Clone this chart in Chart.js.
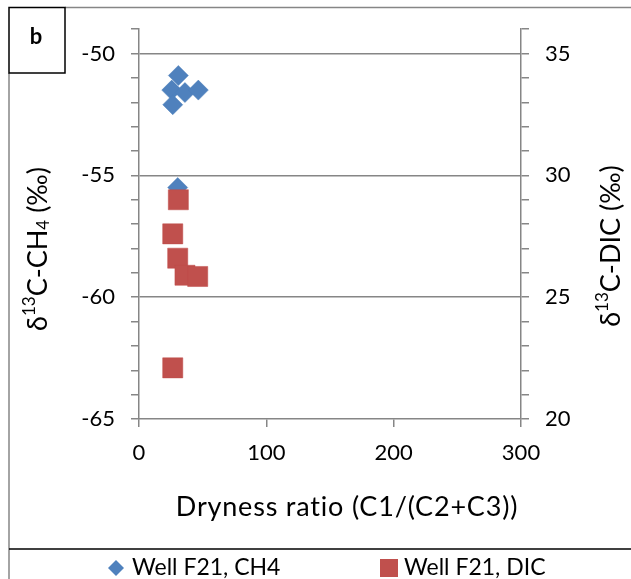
<!DOCTYPE html>
<html>
<head>
<meta charset="utf-8">
<script src="https://cdn.jsdelivr.net/npm/chart.js@4.4.1/dist/chart.umd.min.js"></script>
<style>
  html, body { margin: 0; padding: 0; background: #fff; }
  #wrap { width: 631px; height: 579px; position: relative; }
</style>
</head>
<body>
<div id="wrap"><canvas id="chart"></canvas></div>
<script>
// dryness ratio C1/(C2+C3) and d13C values
const dryCH4 = [30.9, 25.7, 36.1, 46.6, 26.5, 30.4];
const d13CH4 = [-50.9, -51.5, -51.6, -51.5, -52.1, -55.5];
const dryDIC = [30.9, 26.5, 30.4, 36.1, 46.1, 26.5];
const d13DIC = [29.0, 27.6, 26.6, 25.9, 25.85, 22.1];

const xTicks = [0, 100, 200, 300];
const leftLabels = [-65, -60, -55, -50];
const rightLabels = [20, 25, 30, 35];

const FONT = 'Lato, "Open Sans", sans-serif';
const AXIS = '#868686';
const BLUE = '#4F81BD';
const RED = '#C0504D';

function pts(xs, ys) {
  return xs.map((x, i) => ({x: x, y: ys[i]}));
}

// draw a line of text made of pieces with their own size / baseline shift
function richText(ctx, parts, cx, cy, rot, spacing) {
  ctx.save();
  ctx.translate(cx, cy);
  ctx.rotate(rot);
  ctx.textBaseline = 'middle';
  ctx.textAlign = 'left';
  if (spacing) ctx.letterSpacing = spacing + 'px';
  let w = 0;
  parts.forEach(p => {
    ctx.font = p.size + 'px ' + FONT;
    p.w = ctx.measureText(p.t).width;
    w += p.w;
  });
  let x = -w / 2;
  parts.forEach(p => {
    ctx.font = p.size + 'px ' + FONT;
    ctx.fillStyle = '#000';
    ctx.fillText(p.t, x, p.dy || 0);
    x += p.w;
  });
  ctx.restore();
}

const decor = {
  id: 'decor',
  afterDraw(chart) {
    const ctx = chart.ctx;
    ctx.save();
    // outer frame
    ctx.strokeStyle = AXIS;
    ctx.lineWidth = 1.5;
    ctx.beginPath();
    ctx.moveTo(65, 7.5); ctx.lineTo(631, 7.5);
    ctx.moveTo(9, 73); ctx.lineTo(9, 579);
    ctx.stroke();
    ctx.strokeStyle = '#000';
    ctx.beginPath();
    ctx.moveTo(9, 549); ctx.lineTo(631, 549);
    ctx.stroke();
    ctx.strokeRect(9, 7.5, 56, 65.5);
    // panel letter
    ctx.fillStyle = '#000';
    ctx.font = 'bold 22px ' + FONT;
    ctx.textAlign = 'center';
    ctx.textBaseline = 'middle';
    ctx.fillText('b', 36, 37);
    ctx.restore();

    // axis titles
    richText(ctx, [{t: 'Dryness ratio (C1/(C2+C3))', size: 27}], 347, 507, 0, 0.8);
    richText(ctx, [
      {t: 'δ', size: 27}, {t: '13', size: 17, dy: -8},
      {t: 'C-CH', size: 27}, {t: '4', size: 17, dy: 6},
      {t: ' (‰)', size: 27}
    ], 38, 249, -Math.PI / 2);
    richText(ctx, [
      {t: 'δ', size: 27}, {t: '13', size: 17, dy: -8},
      {t: 'C-DIC (‰)', size: 27}
    ], 611, 246, -Math.PI / 2);

    // legend
    ctx.save();
    const ly = 568;
    ctx.fillStyle = BLUE;
    ctx.beginPath();
    ctx.moveTo(116, ly - 8); ctx.lineTo(124, ly); ctx.lineTo(116, ly + 8); ctx.lineTo(108, ly);
    ctx.closePath();
    ctx.fill();
    ctx.fillStyle = RED;
    ctx.fillRect(380, ly - 9, 18, 18);
    ctx.fillStyle = '#000';
    ctx.font = '23px ' + FONT;
    ctx.textAlign = 'left';
    ctx.textBaseline = 'middle';
    ctx.fillText(chart.data.datasets[0].label, 132, ly);
    ctx.fillText(chart.data.datasets[1].label, 404, ly);
    ctx.restore();
  }
};

new Chart(document.getElementById('chart'), {
  type: 'scatter',
  data: {
    datasets: [{
      label: 'Well F21, CH4',
      data: pts(dryCH4, d13CH4),
      yAxisID: 'y',
      pointStyle: 'rectRot',
      pointRadius: 10,
      backgroundColor: BLUE,
      borderColor: '#4A7EBB',
      borderWidth: 0.5,
      order: 1
    }, {
      label: 'Well F21, DIC',
      data: pts(dryDIC, d13DIC),
      yAxisID: 'y2',
      pointStyle: 'rect',
      pointRadius: 14.2,
      backgroundColor: RED,
      borderColor: '#BE4B48',
      borderWidth: 0.5,
      order: 0
    }]
  },
  options: {
    responsive: true,
    maintainAspectRatio: false,
    animation: false,
    events: [],
    layout: { padding: { top: 29, left: 0, right: 0, bottom: 0 } },
    plugins: {
      legend: { display: false },
      tooltip: { enabled: false }
    },
    scales: {
      x: {
        type: 'linear',
        min: 0, max: 300,
        afterBuildTicks: s => { s.ticks = xTicks.map(v => ({value: v})); },
        afterFit: s => { s.height = 160; },
        border: { color: AXIS, width: 1.5 },
        grid: { drawOnChartArea: false, color: AXIS, tickLength: 8, lineWidth: 1.5 },
        ticks: { color: '#000', font: { family: FONT, size: 22 }, padding: 13, maxRotation: 0 }
      },
      y: {
        type: 'linear',
        position: 'left',
        min: -65, max: -49,
        ticks: {
          stepSize: 1,
          autoSkip: false,
          color: '#000',
          font: { family: FONT, size: 22 },
          padding: 16,
          callback: v => leftLabels.includes(v) ? String(v) : ''
        },
        afterFit: s => { s.width = 139; },
        border: { color: AXIS, width: 1.5 },
        grid: {
          tickLength: 8,
          lineWidth: 1.5,
          tickColor: AXIS,
          color: c => (c.tick && c.tick.value % 5 === 0 && c.tick.value !== -65) ? AXIS : 'rgba(0,0,0,0)'
        }
      },
      y2: {
        type: 'linear',
        position: 'right',
        min: 20, max: 36,
        ticks: {
          stepSize: 1,
          autoSkip: false,
          color: '#000',
          font: { family: FONT, size: 22 },
          padding: 16,
          callback: v => rightLabels.includes(v) ? String(v) : ''
        },
        afterFit: s => { s.width = 110; },
        border: { color: AXIS, width: 1.5 },
        grid: { drawOnChartArea: false, tickLength: 8, lineWidth: 1.5, color: AXIS }
      }
    }
  },
  plugins: [decor]
});
</script>
</body>
</html>
